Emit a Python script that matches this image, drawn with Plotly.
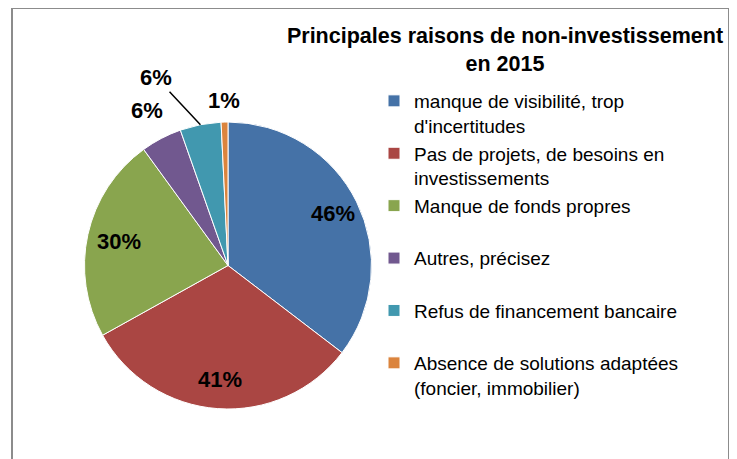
import math
import plotly.graph_objects as go

# motifs (réponses multiples, donc total > 100)
raisons = [
    "manque de visibilité, trop<br>d'incertitudes",
    "Pas de projets, de besoins en<br>investissements",
    "Manque de fonds propres",
    "Autres, précisez",
    "Refus de financement bancaire",
    "Absence de solutions adaptées<br>(foncier, immobilier)",
]
pourcentages = [46, 41, 30, 6, 6, 1]
couleurs = ["#4572A7", "#AA4643", "#89A54E", "#71588F", "#4198AF", "#DB843D"]

# label placement (fraction of radius) like Excel's best fit
label_r = [0.82, 0.8, 0.78, 1.22, 1.0, 1.15]

W, H = 737, 459
OFF = 8  # page body margin, positions below are given in page pixels
cx, cy, R = 228, 265.5, 143.5


def px_x(x):
    return (x - OFF) / W


def px_y(y):
    return 1 - (y - OFF) / H


# pad single-line entries so that every legend entry takes the same height
legend_labels = [r if "<br>" in r else r + "<br> " for r in raisons]

fig = go.Figure(go.Pie(
    labels=legend_labels,
    values=pourcentages,
    textinfo="none",
    marker=dict(colors=couleurs, line=dict(color="white", width=1)),
    sort=False,
    direction="clockwise",
    rotation=0,
    domain=dict(x=[px_x(cx - R), px_x(cx + R)], y=[px_y(cy + R), px_y(cy - R)]),
    hovertemplate="%{label}: %{value}%<extra></extra>",
))

annotations = []
total = sum(pourcentages)
cum = 0
for i, p in enumerate(pourcentages):
    mid = (cum + p / 2) / total * 2 * math.pi
    cum += p
    lx = cx + R * label_r[i] * math.sin(mid)
    ly = cy - R * label_r[i] * math.cos(mid)
    ann = dict(x=px_x(lx), y=px_y(ly), xref="paper", yref="paper",
               xanchor="center", yanchor="middle",
               text="<b>%d%%</b>" % p, showarrow=False,
               font=dict(size=22, color="black"))
    if label_r[i] == 1.0:
        # leader line for the crowded slice
        ann.update(showarrow=True, arrowhead=0, arrowwidth=1.5, arrowcolor="black",
                   ax=-44, ay=-47, standoff=0)
    annotations.append(ann)

fig.update_layout(
    width=W, height=H,
    margin=dict(l=0, r=0, t=0, b=0),
    paper_bgcolor="white",
    font=dict(family="Arial, Liberation Sans", color="black"),
    title=dict(
        text="<b>Principales raisons de non-investissement<br>en 2015</b>",
        font=dict(size=21.5, color="black"),
        x=px_x(505), xanchor="center", xref="paper",
        y=1 - 35 / H, yanchor="top", yref="container",
    ),
    legend=dict(
        x=px_x(374), xanchor="left",
        y=px_y(82), yanchor="top",
        valign="top",
        font=dict(size=19, color="black"),
        bgcolor="rgba(0,0,0,0)",
    ),
    annotations=annotations,
    shapes=[dict(type="rect", xref="paper", yref="paper",
                 x0=px_x(12), x1=px_x(729), y0=-0.1, y1=px_y(8),
                 line=dict(color="#8C8C8C", width=2))],
)

fig.write_html("out.html")
